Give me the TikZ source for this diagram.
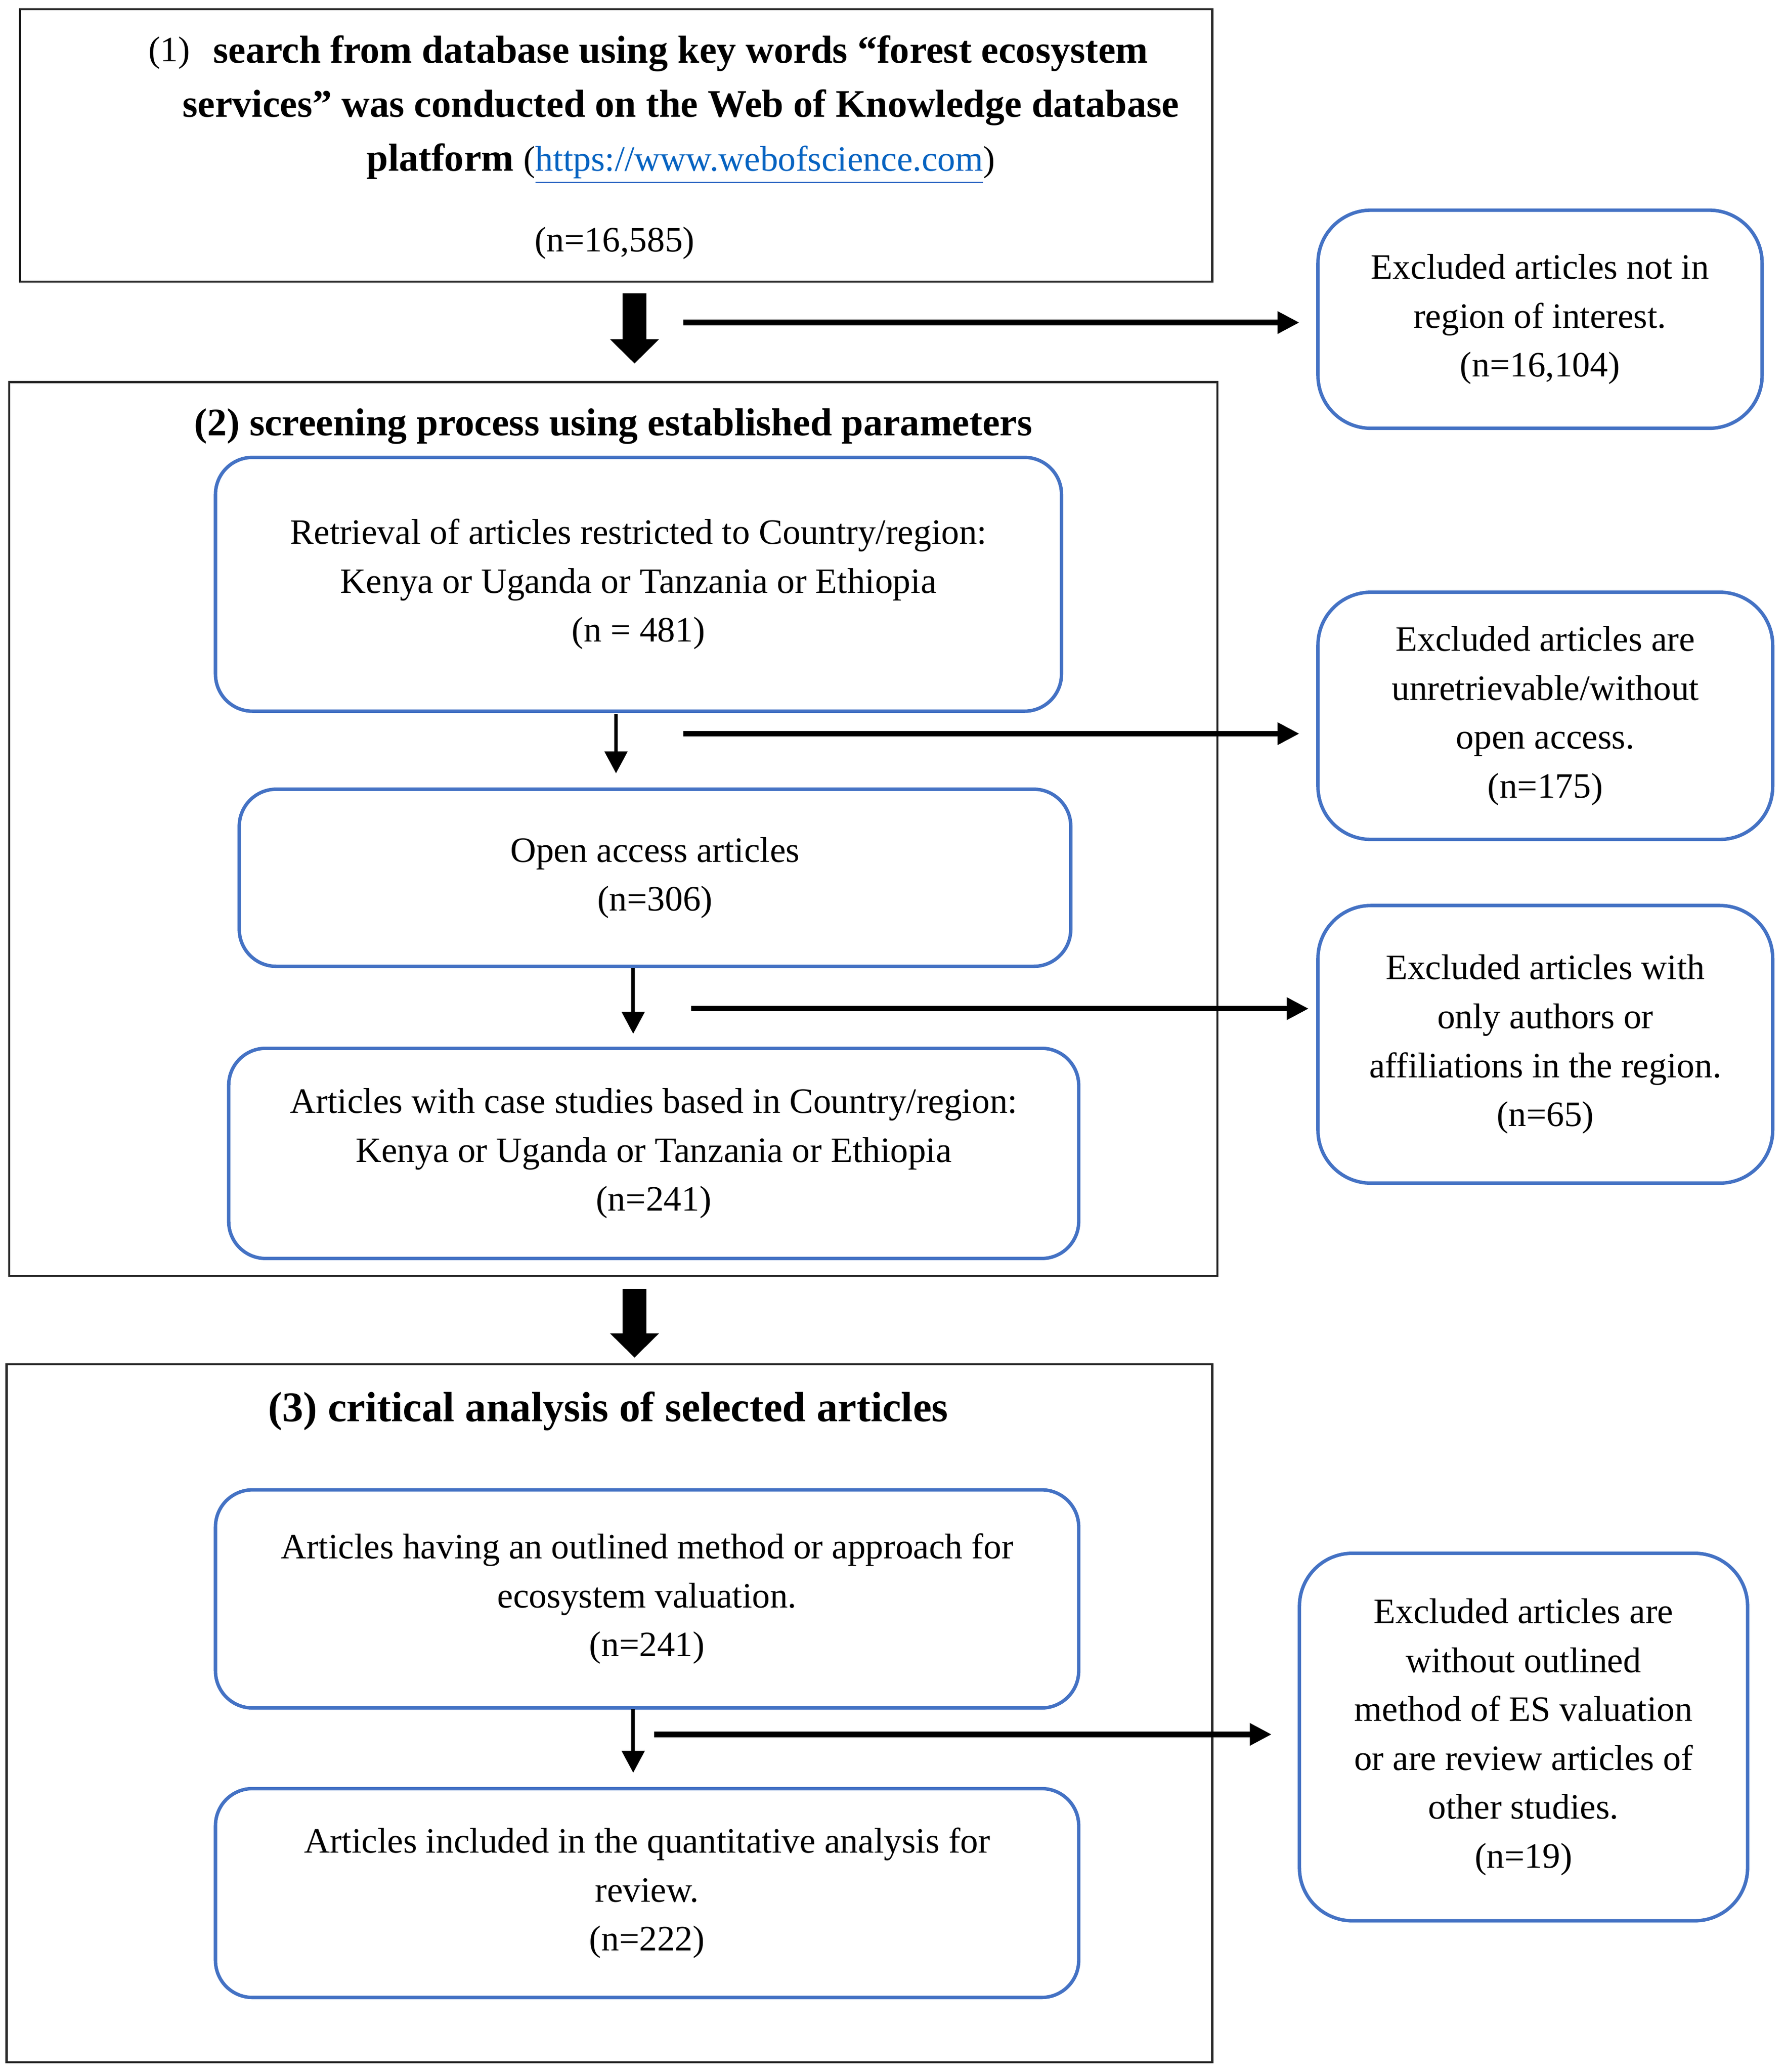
\documentclass[tikz,border=0pt]{standalone}
\usepackage{fontspec}
\setmainfont{Liberation Serif}
\usetikzlibrary{arrows.meta,calc}
\definecolor{boxblue}{HTML}{4472C4}
\definecolor{linkblue}{HTML}{0563C1}
\begin{document}
\begin{tikzpicture}[x=0.5pt,y=-0.5pt,
  frame/.style={draw=black!85, line width=0.8pt, inner sep=0pt, outer sep=0pt},
  rbox/.style={draw=boxblue, line width=1.3pt, rounded corners=14pt, inner sep=0pt, outer sep=0pt, align=center, font=\fontsize{13.5}{18.5}\selectfont},
  ebox/.style={rbox, rounded corners=20pt},
  bigarrow/.style={line width=9pt, -{Triangle[width=18pt,length=9.2pt]}},
  harrow/.style={line width=2.1pt, -{Triangle[width=8pt,length=8.3pt]}},
  varrow/.style={line width=1.3pt, -{Triangle[width=8.5pt,length=8.3pt]}},
  ttl/.style={font=\bfseries\fontsize{14.75}{18}\selectfont, inner sep=0pt},
  plain/.style={inner sep=0pt, font=\fontsize{13.5}{18.5}\selectfont},
]
\useasboundingbox (0,0) rectangle (1350,1567.4);
\fill[white] (0,0) rectangle (1350,1567.4);

% stage 1
\node[frame, minimum width=451pt, minimum height=103pt] (box1) at (466,110) {};
\node[plain] (n1) at (128,40) {(1)};
\node[inner sep=0pt, align=center, font=\bfseries\fontsize{14.75}{20.5}\selectfont] (t1) at (515,83)
  {search from database using key words “forest ecosystem\\
   services” was conducted on the Web of Knowledge database\\
   platform {\mdseries\fontsize{13.5}{20.5}\selectfont (\textcolor{linkblue}{\underline{https://www.webofscience.com}})}};
\node[plain] (n16585) at (465,184) {(n=16,585)};

% stage 2
\node[frame, minimum width=457pt, minimum height=338pt] (box2) at (464,627) {};
\node[ttl] (t2) at (464,322.5) {(2) screening process using established parameters};
\node[rbox, minimum width=320pt, minimum height=96pt] (r1) at (483,442)
  {Retrieval of articles restricted to Country/region:\\Kenya or Uganda or Tanzania or Ethiopia\\(n = 481)};
\node[rbox, minimum width=314.5pt, minimum height=67pt] (r2) at (495.5,664)
  {Open access articles\\(n=306)};
\node[rbox, minimum width=321.5pt, minimum height=79.5pt] (r3) at (494.5,872.5)
  {Articles with case studies based in Country/region:\\Kenya or Uganda or Tanzania or Ethiopia\\(n=241)};

% stage 3
\node[frame, minimum width=456pt, minimum height=264pt] (box3) at (461,1296) {};
\node[ttl, font=\bfseries\fontsize{16}{18}\selectfont] (t3) at (460,1067.5) {(3) critical analysis of selected articles};
\node[rbox, minimum width=326.5pt, minimum height=82.5pt] (r4) at (489.5,1209.5)
  {Articles having an outlined method or approach for\\ecosystem valuation.\\(n=241)};
\node[rbox, minimum width=326.5pt, minimum height=79pt] (r5) at (489.5,1432)
  {Articles included in the quantitative analysis for\\review.\\(n=222)};

% exclusion boxes
\node[ebox, minimum width=168pt, minimum height=82.5pt] (e1) at (1165,241.5)
  {Excluded articles not in\\region of interest.\\(n=16,104)};
\node[ebox, minimum width=172pt, minimum height=93.5pt] (e2) at (1169,541.5)
  {Excluded articles are\\unretrievable/without\\open access.\\(n=175)};
\node[ebox, minimum width=172pt, minimum height=105pt] (e3) at (1169,790)
  {Excluded articles with\\only authors or\\affiliations in the region.\\(n=65)};
\node[ebox, minimum width=169.5pt, minimum height=139pt] (e4) at (1152.5,1314)
  {Excluded articles are\\without outlined\\method of ES valuation\\or are review articles of\\other studies.\\(n=19)};

% big arrows between stages
\coordinate (bx) at (480,0);
\draw[bigarrow, shorten <=4.5pt, shorten >=7pt] (bx |- box1.south) -- (bx |- box2.north);
\draw[bigarrow, shorten <=5pt, shorten >=2.5pt] (bx |- box2.south) -- (bx |- box3.north);

% thin vertical arrows
\coordinate (vx1) at (466,0);
\coordinate (vx2) at (479,0);
\draw[varrow, shorten <=1pt, shorten >=6pt] (vx1 |- r1.south) -- (vx1 |- r2.north);
\draw[varrow, shorten <=0.5pt, shorten >=5.5pt] (vx2 |- r2.south) -- (vx2 |- r3.north);
\draw[varrow, shorten <=0.5pt, shorten >=6pt] (vx2 |- r4.south) -- (vx2 |- r5.north);

% exclusion arrows
\coordinate (h1) at (517,244);
\coordinate (h2) at (517,555);
\coordinate (h3) at (523,763);
\coordinate (h4) at (495,1312);
\draw[harrow, shorten >=7pt] (h1) -- (h1 -| e1.west);
\draw[harrow, shorten >=7pt] (h2) -- (h2 -| e2.west);
\draw[harrow, shorten >=3.5pt] (h3) -- (h3 -| e3.west);
\draw[harrow, shorten >=10.5pt] (h4) -- (h4 -| e4.west);
\end{tikzpicture}
\end{document}
